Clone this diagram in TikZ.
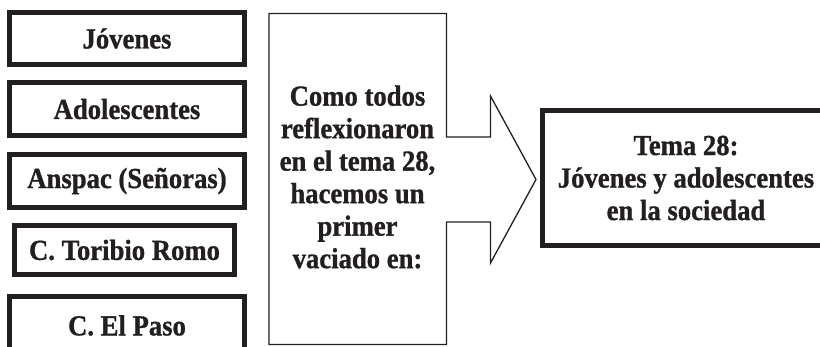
\documentclass[tikz,border=0pt]{standalone}
\usepackage{fontspec}
\setmainfont{Liberation Serif}[FakeStretch=0.92,BoldFeatures={FakeBold=1}]
\definecolor{ink}{HTML}{231F20}
\begin{document}
\begin{tikzpicture}[x=1pt,y=-1pt,
  every node/.style={font=\fontsize{29}{32.5}\selectfont\bfseries, text=ink, inner sep=0pt},
  thickbox/.style={draw=ink, line width=5pt, minimum width=235pt, minimum height=53pt, align=center},
  thin/.style={draw=ink, line width=1.3pt, line join=miter}]
\useasboundingbox (0,0) rectangle (820,346);
\begin{scope}
\clip (0,0) rectangle (820,346);
\node[thickbox, minimum height=52pt] (jov) at (127,38.5) {Jóvenes};
\node[thickbox] (ado) at (127,109) {Adolescentes};
\node[thickbox] (ans) at (127,181) {Anspac (Señoras)};
\node[thickbox, minimum width=220pt, minimum height=49pt] (tor) at (124.5,250) {C. Toribio Romo};
\node[thickbox, minimum height=58pt] (pas) at (127,325.5) {C. El Paso};
% central box with arrow
\coordinate (a1) at (269,13.5);
\coordinate (a2) at (446.5,13.5);
\coordinate (a3) at (446.5,137);
\coordinate (a4) at (490.5,137);
\coordinate (a5) at (490.5,96);
\coordinate (tip) at (536,179.5);
\coordinate (a7) at (490.5,263);
\coordinate (a8) at (490.5,222);
\coordinate (a9) at (446.5,222);
\coordinate (a10) at (446.5,344.5);
\coordinate (a11) at (269,344.5);
\draw[thin] (a1) -- (a2) -- (a3) -- (a4) -- (a5) -- (tip) -- (a7) -- (a8) -- (a9) -- (a10) -- (a11) -- cycle;
\node[align=center] (mid) at (357.5,177) {Como todos\\reflexionaron\\en el tema 28,\\hacemos un\\primer\\vaciado en:};
\node[thickbox, minimum width=287pt, minimum height=135pt] (tema) at (686,178) {Tema 28:\\Jóvenes y adolescentes\\en la sociedad};
\end{scope}
\end{tikzpicture}
\end{document}
